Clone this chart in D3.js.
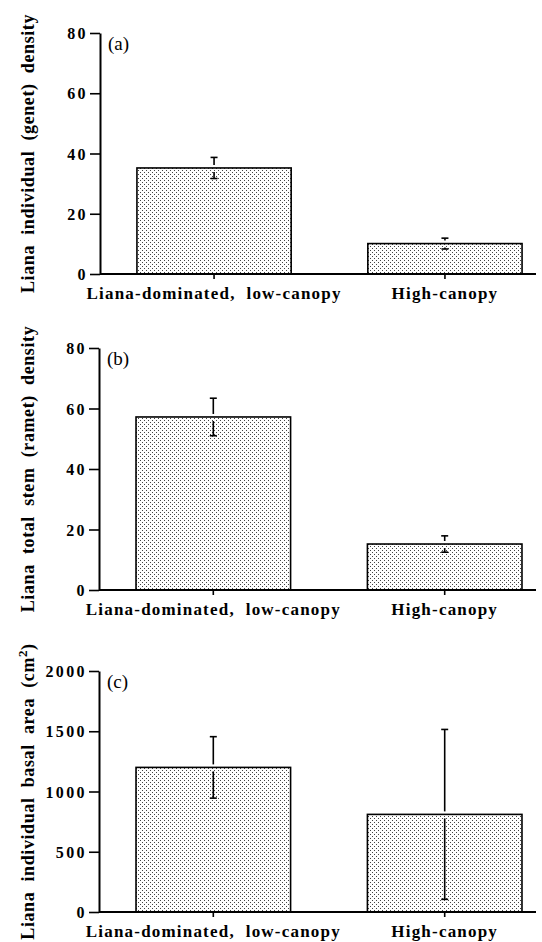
<!DOCTYPE html>
<html>
<head>
<meta charset="utf-8">
<script src="https://cdn.jsdelivr.net/npm/d3@7"></script>
<style>
  body { margin: 0; background: #fff; }
  text { font-family: "Liberation Serif", "Times New Roman", serif; fill: #000; }
</style>
</head>
<body>
<div id="chart"></div>
<script>
// data
var categories = ["Liana-dominated,  low-canopy", "High-canopy"];
var genetMean = [35.2, 10.1];
var genetErr = [3.5, 1.8];
var rametMean = [57.2, 15.2];
var rametErr = [6.2, 2.7];
var basalMean = [1200, 810];
var basalErr = [255, 705];
var densityTicks = [0, 20, 40, 60, 80];
var basalTicks = [0, 500, 1000, 1500, 2000];
var panelLabels = ["(a)", "(b)", "(c)"];
var yTitles = ["Liana  individual  (genet)  density", "Liana  total  stem  (ramet)  density", "Liana  individual  basal  area  (cm"];

var W = 542, H = 942;
var svg = d3.select("#chart").append("svg")
  .attr("width", W).attr("height", H);

// dotted fill pattern
var pat = svg.append("defs").append("pattern")
  .attr("id", "dots").attr("patternUnits", "userSpaceOnUse")
  .attr("width", 4).attr("height", 4);
pat.append("rect").attr("width", 4).attr("height", 4).attr("fill", "#fff");
pat.append("rect").attr("x", 0).attr("y", 0).attr("width", 1).attr("height", 1).attr("fill", "#444");
pat.append("rect").attr("x", 2).attr("y", 2).attr("width", 1).attr("height", 1).attr("fill", "#444");

var panels = [
  {mean: genetMean, err: genetErr, ticks: densityTicks, max: 80, top: 33, bottom: 274, axisX: 100},
  {mean: rametMean, err: rametErr, ticks: densityTicks, max: 80, top: 348, bottom: 590, axisX: 99},
  {mean: basalMean, err: basalErr, ticks: basalTicks, max: 2000, top: 671, bottom: 912, axisX: 99}
];

panels.forEach(function(p, i) {
  var g = svg.append("g");
  var y = d3.scaleLinear().domain([0, p.max]).range([p.bottom, p.top]);
  var x = d3.scaleBand().domain(categories).range([p.axisX, 559])
    .paddingInner(0.332).paddingOuter(0.16);

  // y axis
  var yAxis = g.append("g")
    .attr("transform", "translate(" + p.axisX + ",0)")
    .call(d3.axisLeft(y).tickValues(p.ticks).tickFormat(d3.format("d"))
      .tickSize(10).tickPadding(2).tickSizeOuter(0));
  yAxis.attr("font-family", null).attr("font-size", null);
  yAxis.select(".domain").attr("stroke-width", 2);
  yAxis.selectAll(".tick line").attr("stroke-width", 1.6);
  yAxis.selectAll(".tick text")
    .style("font-weight", "bold")
    .style("font-size", "16px")
    .style("letter-spacing", "2.4px")
    .attr("dy", "0.35em");

  // bars
  g.selectAll(".bar").data(p.mean).enter().append("rect")
    .attr("x", function(d, j) { return x(categories[j]); })
    .attr("y", function(d) { return y(d); })
    .attr("width", x.bandwidth())
    .attr("height", function(d) { return y(0) - y(d); })
    .attr("fill", "url(#dots)")
    .attr("stroke", "#000")
    .attr("stroke-width", 1.6);

  // error bars
  p.mean.forEach(function(m, j) {
    var cx = x(categories[j]) + x.bandwidth() / 2;
    var hi = y(m + p.err[j]), lo = y(m - p.err[j]), top = y(m);
    g.append("line").attr("x1", cx).attr("x2", cx).attr("y1", hi).attr("y2", top - 3)
      .attr("stroke", "#000").attr("stroke-width", 1.6);
    g.append("line").attr("x1", cx).attr("x2", cx).attr("y1", top + 4).attr("y2", lo)
      .attr("stroke", "#000").attr("stroke-width", 1.6);
    [hi, lo].forEach(function(yy) {
      g.append("line").attr("x1", cx - 3.5).attr("x2", cx + 3.5).attr("y1", yy).attr("y2", yy)
        .attr("stroke", "#000").attr("stroke-width", 1.6);
    });
  });

  // x axis
  g.append("line").attr("x1", p.axisX).attr("x2", 536)
    .attr("y1", y(0)).attr("y2", y(0)).attr("stroke", "#000").attr("stroke-width", 2);
  categories.forEach(function(c) {
    var cx = x(c) + x.bandwidth() / 2;
    g.append("line").attr("x1", cx).attr("x2", cx).attr("y1", y(0)).attr("y2", y(0) + 5)
      .attr("stroke", "#000").attr("stroke-width", 1.6);
    g.append("text").attr("x", cx).attr("y", y(0) + 25)
      .attr("text-anchor", "middle")
      .style("white-space", "pre")
      .style("font-weight", "bold").style("font-size", "17px").style("letter-spacing", "1.2px")
      .text(c);
  });

  // panel label
  g.append("text").attr("x", p.axisX + 8).attr("y", p.top + 17)
    .style("font-size", "19px").text(panelLabels[i]);

  // y title
  var cy = (p.top + p.bottom) / 2;
  var t = g.append("text")
    .attr("transform", "translate(34," + cy + ") rotate(-90)")
    .attr("text-anchor", "middle")
    .style("white-space", "pre")
    .style("font-weight", "bold").style("font-size", "18px").style("letter-spacing", "0.6px")
    .text(yTitles[i]);
  if (i === 2) {
    t.append("tspan").attr("dy", -7).style("font-size", "13px").text("2");
    t.append("tspan").attr("dy", 7).text(")");
  }
});
</script>
</body>
</html>
